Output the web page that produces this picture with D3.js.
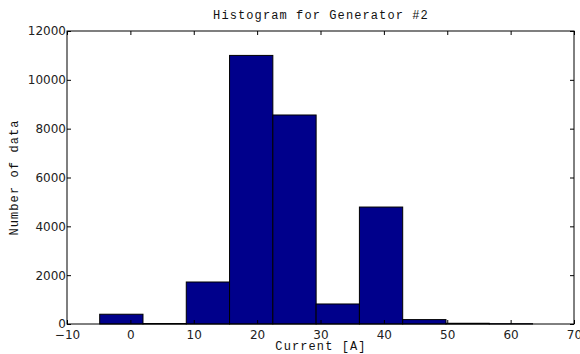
<!DOCTYPE html>
<html>
<head>
<meta charset="utf-8">
<script src="https://cdn.jsdelivr.net/npm/d3@7"></script>
<style>
  body { margin: 0; background: #fff; }
  .tick text { font-family: "DejaVu Sans", sans-serif; font-size: 12px; fill: #222; }
  .lbl { font-family: "Liberation Mono", "DejaVu Sans Mono", monospace; font-size: 12px; letter-spacing: 1.1px; fill: #111; }
</style>
</head>
<body>
<svg id="chart" width="580" height="354"></svg>
<script>
// histogram bin edges (current in A) and counts
var binEdges = [-4.84, 1.99, 8.82, 15.65, 22.48, 29.31, 36.14, 42.97, 49.80, 56.63, 63.46];
var counts = [400, 20, 1720, 11000, 8560, 820, 4790, 180, 30, 12];
var xTicks = [-10, 0, 10, 20, 30, 40, 50, 60, 70];
var yTicks = [0, 2000, 4000, 6000, 8000, 10000, 12000];

var bins = counts.map(function (c, i) {
  return {x0: binEdges[i], x1: binEdges[i + 1], count: c};
});

var margin = {left: 67, right: 6, top: 31, bottom: 30};
var width = 580, height = 354;
var svg = d3.select("#chart");

var x = d3.scaleLinear().domain([-10, 70]).range([margin.left, width - margin.right]);
var y = d3.scaleLinear().domain([0, 12000]).range([height - margin.bottom, margin.top]);

svg.selectAll(".bar")
  .data(bins)
  .enter()
  .append("rect")
    .attr("class", "bar")
    .attr("x", function (d) { return x(d.x0); })
    .attr("y", function (d) { return y(d.count); })
    .attr("width", function (d) { return x(d.x1) - x(d.x0); })
    .attr("height", function (d) { return y(0) - y(d.count); })
    .attr("fill", "#00008b")
    .attr("stroke", "#000")
    .attr("stroke-width", 1);

// axes, inward ticks like the classic look
var axBottom = svg.append("g")
  .attr("transform", "translate(0," + y(0) + ")")
  .call(d3.axisBottom(x).tickValues(xTicks).tickSize(-4).tickPadding(6).tickFormat(function (d) {
    return d < 0 ? "\u2212" + Math.abs(d) : String(d);
  }));
var axTop = svg.append("g")
  .attr("transform", "translate(0," + y(12000) + ")")
  .call(d3.axisTop(x).tickValues(xTicks).tickSize(-4).tickFormat(""));
var axLeft = svg.append("g")
  .attr("transform", "translate(" + x(-10) + ",0)")
  .call(d3.axisLeft(y).tickValues(yTicks).tickSize(-4).tickPadding(2).tickFormat(d3.format("d")));
var axRight = svg.append("g")
  .attr("transform", "translate(" + x(70) + ",0)")
  .call(d3.axisRight(y).tickValues(yTicks).tickSize(-4).tickFormat(""));

[axBottom, axTop, axLeft, axRight].forEach(function (g) {
  g.select(".domain").remove();
  g.selectAll(".tick line").attr("stroke", "#000");
});
axLeft.selectAll(".tick text").attr("x", -1);
axLeft.selectAll(".tick line").attr("x2", 4).attr("x1", 0);

svg.append("rect")
  .attr("x", x(-10))
  .attr("y", y(12000))
  .attr("width", x(70) - x(-10))
  .attr("height", y(0) - y(12000))
  .attr("fill", "none")
  .attr("stroke", "#000")
  .attr("stroke-width", 1);

svg.append("text")
  .attr("class", "lbl")
  .attr("x", 321)
  .attr("y", 18.5)
  .attr("text-anchor", "middle")
  .text("Histogram for Generator #2");

svg.append("text")
  .attr("class", "lbl")
  .attr("x", 321)
  .attr("y", 350)
  .attr("text-anchor", "middle")
  .text("Current [A]");

svg.append("text")
  .attr("class", "lbl")
  .attr("transform", "translate(18," + ((y(0) + y(12000)) / 2) + ") rotate(-90)")
  .attr("text-anchor", "middle")
  .text("Number of data");
</script>
</body>
</html>
